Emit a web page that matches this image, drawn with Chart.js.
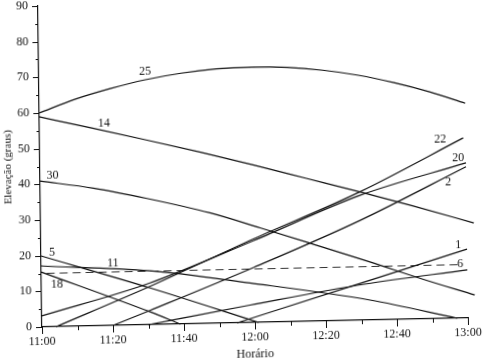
<!DOCTYPE html>
<html>
<head>
<meta charset="utf-8">
<script src="https://cdn.jsdelivr.net/npm/chart.js@4.4.1/dist/chart.umd.min.js"></script>
<style>
  html, body { margin: 0; padding: 0; background: #fff; overflow: hidden; }
  #wrap { position: relative; width: 484px; height: 361px; overflow: hidden; }
  /* a figura original foi digitalizada levemente torta */
  canvas { position: absolute; left: 0; top: 0; transform-origin: 42px 327px; transform: matrix(1, -0.0211, 0.0125, 1, 0, 0); }
</style>
</head>
<body>
<div id="wrap"><canvas id="grafico" width="484" height="372"></canvas></div>
<script>
// minutos contados a partir das 11:00 e elevação em graus de cada satélite
const sat25Min = [0, 10, 20, 30, 40, 50, 60, 70, 80, 90, 100, 110, 120];
const sat25Elev = [60.0, 63.6, 66.4, 68.7, 70.3, 71.3, 71.6, 71.3, 70.3, 68.7, 66.4, 63.6, 60.2];
const sat14Min = [0, 15, 30, 45, 60, 75, 90, 105, 122];
const sat14Elev = [58.9, 55.4, 51.8, 48.1, 44.2, 40.1, 36.0, 31.7, 26.6];
const sat30Min = [0, 15, 30, 47.7, 61.8, 77, 92.6, 107, 122];
const sat30Elev = [40.9, 38.6, 35.4, 31.0, 26.5, 21.5, 16.3, 11.3, 6.4];
const sat5Min = [0, 30.6, 61];
const sat5Elev = [19.9, 10.3, 0];
const sat18Min = [0, 30.5, 39];
const sat18Elev = [15.4, 3.6, 0];
const sat11Min = [0, 30.6, 58.7, 92.5, 117];
const sat11Elev = [17.1, 15.1, 11.1, 5.6, 0];
const sat6Min = [30, 58.7, 91, 120];
const sat6Elev = [0, 4.9, 10.1, 13.5];
const sat1Min = [55, 91, 120];
const sat1Elev = [0, 10.7, 19.3];
const sat22Min = [4, 30, 60, 90, 119.3];
const sat22Elev = [0, 10.5, 23.5, 36, 50.5];
const sat20Min = [0, 30.6, 60, 90, 120];
const sat20Elev = [3.1, 11.7, 23, 35, 43.5];
const sat2Min = [20, 30.5, 60, 90, 120];
const sat2Elev = [0, 4, 15.5, 28, 42.4];
// máscara de elevação (linha tracejada)
const mascaraMin = [1.5, 118];
const mascaraElev = [15, 15];

// rótulos escritos junto às curvas
const rotuloTexto = ['25', '14', '30', '5', '11', '18', '22', '20', '2', '1', '6'];
const rotuloMin = [29.9, 18.2, 3.5, 3.1, 20.2, 4.4, 112.8, 117.8, 114.9, 117.5, 118];
const rotuloElev = [70.9, 56.8, 42.5, 20.7, 17.5, 11.7, 50.1, 44.9, 38.2, 20.5, 15.2];

const corTraco = '#111';

function serie(minutos, elevacoes, tracejada) {
    return {
        data: minutos.map((m, i) => ({ x: m, y: elevacoes[i] })),
        borderColor: tracejada ? '#333' : corTraco,
        borderWidth: 1.2,
        borderDash: tracejada ? [8, 5] : [],
        pointRadius: 0,
        fill: false,
        cubicInterpolationMode: 'monotone',
        clip: false
    };
}

function formatarHora(v) {
    const h = 11 + Math.floor(v / 60);
    const m = v % 60;
    return h + ':' + (m < 10 ? '0' + m : m);
}

// marcas dos eixos (maiores e menores) e números das curvas
const marcasERotulos = {
    id: 'marcasERotulos',
    afterDraw(chart) {
        const { ctx, chartArea, scales } = chart;
        const x = scales.x, y = scales.y;
        ctx.save();
        ctx.strokeStyle = '#111';
        ctx.lineWidth = 1;
        ctx.beginPath();
        for (let v = 0; v <= 90; v += 5) {
            const py = Math.round(y.getPixelForValue(v)) + 0.5;
            const len = v % 10 === 0 ? 6 : 3;
            ctx.moveTo(chartArea.left - len, py);
            ctx.lineTo(chartArea.left, py);
        }
        for (let t = 0; t <= 120; t += 10) {
            const px = Math.round(x.getPixelForValue(t)) + 0.5;
            const len = t % 20 === 0 ? 7 : 4;
            ctx.moveTo(px, chartArea.bottom);
            ctx.lineTo(px, chartArea.bottom + len);
        }
        ctx.stroke();

        ctx.font = '12px "Liberation Serif"';
        ctx.fillStyle = '#111';
        ctx.textAlign = 'center';
        ctx.textBaseline = 'middle';
        rotuloTexto.forEach((txt, i) => {
            ctx.fillText(txt, x.getPixelForValue(rotuloMin[i]), y.getPixelForValue(rotuloElev[i]));
        });
        ctx.restore();
    }
};

const fonteEixo = { family: '"Liberation Serif", serif', size: 12 };

new Chart(document.getElementById('grafico'), {
    type: 'line',
    data: {
        datasets: [
            serie(sat25Min, sat25Elev),
            serie(sat14Min, sat14Elev),
            serie(sat30Min, sat30Elev),
            serie(sat5Min, sat5Elev),
            serie(sat18Min, sat18Elev),
            serie(sat11Min, sat11Elev),
            serie(sat6Min, sat6Elev),
            serie(sat1Min, sat1Elev),
            serie(sat22Min, sat22Elev),
            serie(sat20Min, sat20Elev),
            serie(sat2Min, sat2Elev),
            serie(mascaraMin, mascaraElev, true)
        ]
    },
    options: {
        responsive: false,
        animation: false,
        layout: { padding: { left: 0, right: 16, top: 6, bottom: 0 } },
        plugins: {
            legend: { display: false },
            tooltip: { enabled: false }
        },
        scales: {
            x: {
                type: 'linear',
                min: 0,
                max: 120,
                afterFit: (s) => { s.height = 45; s.paddingLeft = 0; s.paddingRight = 0; },
                grid: { display: true, drawOnChartArea: false, drawTicks: false, color: 'rgba(0,0,0,0)' },
                border: { display: true, color: '#111', width: 1.2 },
                ticks: {
                    stepSize: 20,
                    padding: 8,
                    color: '#111',
                    font: fonteEixo,
                    maxRotation: 0,
                    callback: (v) => formatarHora(v)
                },
                title: { display: true, text: 'Horário', color: '#111', font: fonteEixo, padding: { top: 2, bottom: 6 } }
            },
            y: {
                min: 0,
                max: 90,
                afterFit: (s) => { s.width = 42; s.paddingTop = 0; s.paddingBottom = 0; },
                grid: { display: true, drawOnChartArea: false, drawTicks: false, color: 'rgba(0,0,0,0)' },
                border: { display: true, color: '#111', width: 1.2 },
                ticks: { stepSize: 10, padding: 10, color: '#111', font: fonteEixo },
                title: { display: true, text: 'Elevação (graus)', color: '#111', font: { family: '"Liberation Serif", serif', size: 11 }, padding: { top: 4, bottom: 0 } }
            }
        }
    },
    plugins: [marcasERotulos]
});
</script>
</body>
</html>
